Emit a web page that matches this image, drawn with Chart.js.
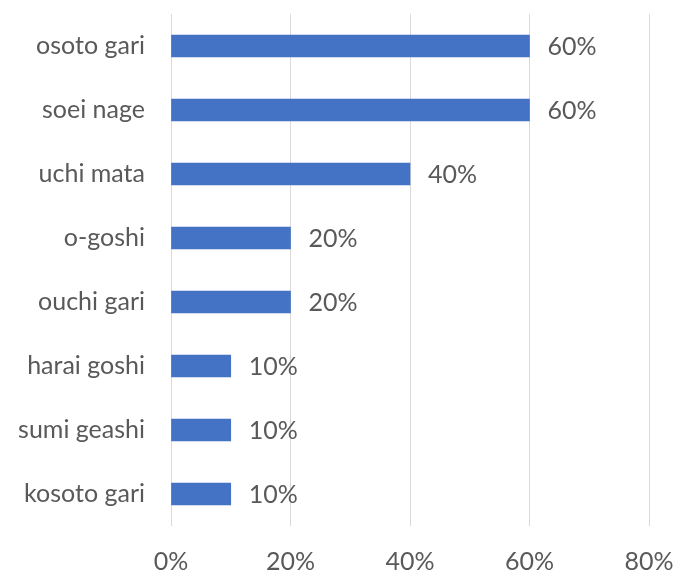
<!DOCTYPE html>
<html>
<head>
<meta charset="utf-8">
<script src="https://cdn.jsdelivr.net/npm/chart.js@4"></script>
<style>
  html, body { margin: 0; padding: 0; background: #fff; }
  #wrap { width: 675px; height: 574px; }
</style>
</head>
<body>
<div id="wrap"><canvas id="canvas"></canvas></div>
<script>
// throws, top to bottom
var throwNames = ['osoto gari', 'soei nage', 'uchi mata', 'o-goshi', 'ouchi gari', 'harai goshi', 'sumi geashi', 'kosoto gari'];
// share of each throw, percent
var throwShare = [60, 60, 40, 20, 20, 10, 10, 10];
// x axis ticks
var xTicks = [0, 20, 40, 60, 80];

var textColor = '#595959';
var fontFamily = 'Lato, "Open Sans", sans-serif';
var fontSize = 25;

// value text to the right of each bar
var barValues = {
  id: 'barValues',
  afterDatasetsDraw: function(chart) {
    var ctx = chart.ctx;
    var meta = chart.getDatasetMeta(0);
    ctx.save();
    ctx.fillStyle = textColor;
    ctx.font = fontSize + 'px ' + fontFamily;
    ctx.textAlign = 'left';
    ctx.textBaseline = 'middle';
    meta.data.forEach(function(bar, i) {
      ctx.fillText(throwShare[i] + '%', bar.x + 18, bar.y + 1);
    });
    ctx.restore();
  }
};

var config = {
  type: 'bar',
  data: {
    labels: throwNames,
    datasets: [{
      data: throwShare,
      backgroundColor: '#4472C4',
      borderWidth: 0,
      barThickness: 22
    }]
  },
  options: {
    indexAxis: 'y',
    responsive: true,
    maintainAspectRatio: false,
    animation: false,
    layout: { padding: { top: 14, right: 26, bottom: 0, left: 0 } },
    plugins: {
      legend: { display: false },
      tooltip: { enabled: false }
    },
    scales: {
      x: {
        min: 0,
        max: 80,
        afterBuildTicks: function(scale) {
          scale.ticks = xTicks.map(function(v) { return { value: v }; });
        },
        afterFit: function(scale) {
          scale.height = 48;
          scale.paddingLeft = 0;
          scale.paddingRight = 0;
        },
        grid: { color: '#D9D9D9', drawTicks: false, lineWidth: 1 },
        border: { display: false },
        ticks: {
          padding: 21,
          color: textColor,
          font: { family: fontFamily, size: fontSize },
          callback: function(v) { return v + '%'; }
        }
      },
      y: {
        afterFit: function(scale) {
          scale.width = 171;
          scale.paddingTop = 0;
          scale.paddingBottom = 0;
        },
        grid: { display: false, drawTicks: false },
        border: { display: false },
        ticks: {
          padding: 26,
          color: textColor,
          font: { family: fontFamily, size: fontSize }
        }
      }
    }
  },
  plugins: [barValues]
};

var ctx = document.getElementById('canvas').getContext('2d');
window.myBar = new Chart(ctx, config);
</script>
</body>
</html>
